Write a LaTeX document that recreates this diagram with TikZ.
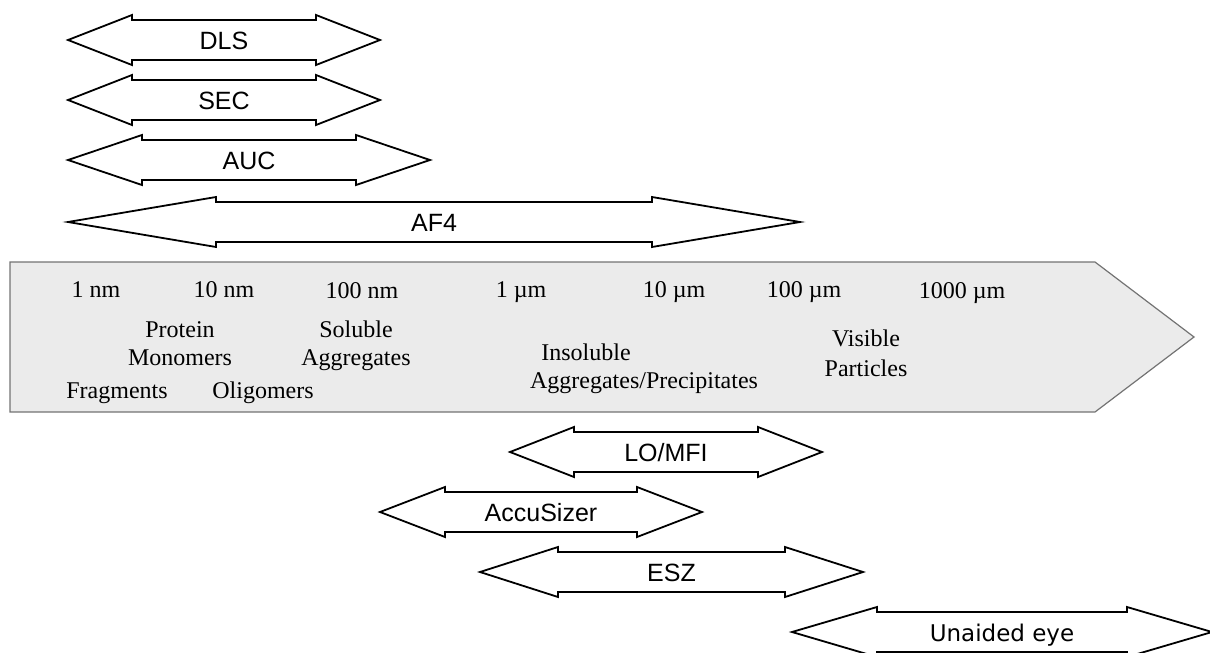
\documentclass[tikz,border=0pt]{standalone}
\usepackage{fontspec}
\setmainfont{Liberation Serif}
\setsansfont{Liberation Sans}
\newfontfamily\eyefont{DejaVu Sans}
\tikzset{
  darrow/.style={draw=black, line width=1.8pt, fill=white, line join=miter},
  dlabel/.style={font=\sffamily\fontsize{25}{30}\selectfont, inner sep=0pt, text height=18pt, text depth=0pt, anchor=center},
  scalelbl/.style={font=\fontsize{24}{29}\selectfont, inner sep=0pt, anchor=base},
  bigarrow/.style={draw=black!55, line width=1.2pt, fill=black!8},
}
% #1 name, #2 left tip x, #3 right tip x, #4 centre y, #5 head length, #6 label
\newcommand\DArr[6]{%
  \draw[darrow] (#2,#4) -- ({#2+#5},{#4-25}) -- ({#2+#5},{#4-20}) -- ({#3-#5},{#4-20})
    -- ({#3-#5},{#4-25}) -- (#3,#4) -- ({#3-#5},{#4+25}) -- ({#3-#5},{#4+20})
    -- ({#2+#5},{#4+20}) -- ({#2+#5},{#4+25}) -- cycle;
  \node[dlabel] (#1) at ({(#2+#3)/2},#4) {#6};}
\begin{document}
\begin{tikzpicture}[x=1pt,y=-1pt]
\useasboundingbox (0,0) rectangle (1210,653);
\clip (0,0) rectangle (1210,653);
% big scale arrow
\draw[bigarrow] (10,262) -- (1095,262) -- (1194,337) -- (1095,412) -- (10,412) -- cycle;
% scale labels
\node[scalelbl] (s1) at (96,297) {1 nm};
\node[scalelbl] (s2) at (224,297) {10 nm};
\node[scalelbl] (s3) at (362,298) {100 nm};
\node[scalelbl] (s4) at (521,297) {1 µm};
\node[scalelbl] (s5) at (674,297) {10 µm};
\node[scalelbl] (s6) at (804,297) {100 µm};
\node[scalelbl] (s7) at (962,298) {1000 µm};
\node[scalelbl] (p1) at (180,337) {Protein};
\node[scalelbl] (p2) at (180,365) {Monomers};
\node[scalelbl] (sa1) at (356,337) {Soluble};
\node[scalelbl] (sa2) at (356,365) {Aggregates};
\node[scalelbl] (fr) at (117,398) {Fragments};
\node[scalelbl] (ol) at (263,398) {Oligomers};
\node[scalelbl] (in1) at (586,360) {Insoluble};
\node[scalelbl] (in2) at (644,388) {Aggregates/Precipitates};
\node[scalelbl] (vp1) at (866,346) {Visible};
\node[scalelbl] (vp2) at (866,376) {Particles};
% technique ranges
\DArr{dls}{68}{380}{40}{64}{DLS}
\DArr{sec}{68}{380}{100}{64}{SEC}
\DArr{auc}{68}{430}{160}{74}{AUC}
\DArr{af4}{68}{800}{222}{148}{AF4}
\DArr{lomfi}{510}{822}{452}{64}{LO/MFI}
\DArr{accu}{380}{702}{512}{65}{AccuSizer}
\DArr{esz}{480}{863}{572}{78}{ESZ}
\DArr{eye}{792}{1212}{632}{85}{\eyefont\fontsize{23}{28}\selectfont Unaided eye}
\end{tikzpicture}
\end{document}
